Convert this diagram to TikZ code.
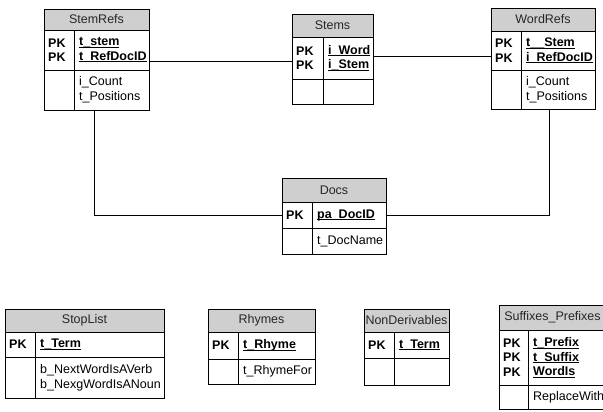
\documentclass[tikz,border=0pt]{standalone}
\usepackage{fontspec}
\setmainfont{Liberation Sans}
\newcommand\ulk[1]{\setbox0\hbox{#1}\rlap{\rule[-1.8pt]{\wd0}{0.8pt}}\box0}
\begin{document}
\begin{tikzpicture}[x=1pt,y=-1pt,
  tline/.style={line width=0.8pt,draw=black},
  hdr/.style={tline,fill=black!19,inner sep=0pt,outer sep=0pt,font=\fontsize{12.5}{15}\selectfont,text=black!85},
  rowbox/.style={tline,fill=white,inner sep=0pt,outer sep=0pt},
  pkl/.style={anchor=west,inner sep=0pt,align=left,font=\fontsize{12.5}{14.5}\selectfont\bfseries},
  fld/.style={anchor=west,inner sep=0pt,align=left,font=\fontsize{12.5}{15}\selectfont},
  pkf/.style={fld,font=\fontsize{12.5}{14.5}\selectfont\bfseries},
  conn/.style={line width=0.8pt,draw=black}]
\newcommand\ertab[9]{%
  \node[hdr,minimum width=#4pt-#2pt,minimum height=#6pt-#5pt,anchor=north west] (#1h) at (#2,#5) {#9};
  \node[rowbox,minimum width=#4pt-#2pt,minimum height=#7pt-#6pt,anchor=north west] (#1k) at (#2,#6) {};
  \node[rowbox,minimum width=#4pt-#2pt,minimum height=#8pt-#7pt,anchor=north west] (#1a) at (#2,#7) {};
  \coordinate (#1v) at (#3,#6);
  \draw[tline] (#1v) -- (#1v |- #1a.south);
}
\useasboundingbox (0,0) rectangle (603,412);
% tables
\ertab{sr}{44}{74}{149}{9}{30}{70}{110}{StemRefs}
\ertab{st}{292}{323}{373}{14}{37}{79}{104}{Stems}
\ertab{wr}{491}{521}{595}{8}{31}{70}{109}{WordRefs}
\ertab{d}{282}{312}{386}{178}{202}{228}{254}{Docs}
\ertab{sl}{5}{35}{164}{309}{332}{357}{398}{StopList}
\ertab{rh}{208}{238}{315}{309}{332}{359}{384}{Rhymes}
\ertab{nd}{364}{394}{449}{309}{332}{358}{385}{NonDerivables}
\ertab{sp}{499}{528}{606}{305}{330}{385}{409}{Suffixes\_Prefixes}
% texts
\node[pkl] (srp) at ([xshift=4pt]srk.west) {PK\\PK};
\node[pkf] (srf) at ([xshift=5pt]srk.west -| srv) {\ulk{t\_stem}\\\ulk{t\_RefDocID}};
\node[fld] (srt) at ([xshift=5pt]sra.west -| srv) {i\_Count\\t\_Positions};
\node[pkl] (stp) at ([xshift=4pt]stk.west) {PK\\PK};
\node[pkf] (stf) at ([xshift=5pt]stk.west -| stv) {\ulk{i\_Word}\\\ulk{i\_Stem}};
\node[pkl] (wrp) at ([xshift=4pt]wrk.west) {PK\\PK};
\node[pkf] (wrf) at ([xshift=5pt]wrk.west -| wrv) {\ulk{t\_\_Stem}\\\ulk{i\_RefDocID}};
\node[fld] (wrt) at ([xshift=5pt]wra.west -| wrv) {i\_Count\\t\_Positions};
\node[pkl] (dp) at ([xshift=4pt]dk.west) {PK};
\node[pkf] (df) at ([xshift=5pt]dk.west -| dv) {\ulk{pa\_DocID}};
\node[fld] (dt) at ([xshift=5pt]da.west -| dv) {t\_DocName};
\node[pkl] (slp) at ([xshift=4pt]slk.west) {PK};
\node[pkf] (slf) at ([xshift=5pt]slk.west -| slv) {\ulk{t\_Term}};
\node[fld] (slt) at ([xshift=5pt]sla.west -| slv) {b\_NextWordIsAVerb\\b\_NexgWordIsANoun};
\node[pkl] (rhp) at ([xshift=4pt]rhk.west) {PK};
\node[pkf] (rhf) at ([xshift=5pt]rhk.west -| rhv) {\ulk{t\_Rhyme}};
\node[fld] (rht) at ([xshift=5pt]rha.west -| rhv) {t\_RhymeFor};
\node[pkl] (ndp) at ([xshift=4pt]ndk.west) {PK};
\node[pkf] (ndf) at ([xshift=5pt]ndk.west -| ndv) {\ulk{t\_Term}};
\node[pkl] (spp) at ([xshift=4pt]spk.west) {PK\\PK\\PK};
\node[pkf] (spf) at ([xshift=5pt]spk.west -| spv) {\ulk{t\_Prefix}\\\ulk{t\_Suffix}\\\ulk{WordIs}};
\node[fld] (spt) at ([xshift=5pt]spa.west -| spv) {ReplaceWith};
% connectors
\draw[conn] ([yshift=-11pt]srk.east) -- ([yshift=-11pt]srk.east -| stk.west);
\draw[conn] ([yshift=2pt]stk.east) -- ([yshift=2pt]stk.east -| wrk.west);
\draw[conn] ([xshift=-2.5pt]sra.south) |- (dk.west);
\draw[conn] (dk.east) -| ([xshift=6pt]wra.south);
\end{tikzpicture}
\end{document}
